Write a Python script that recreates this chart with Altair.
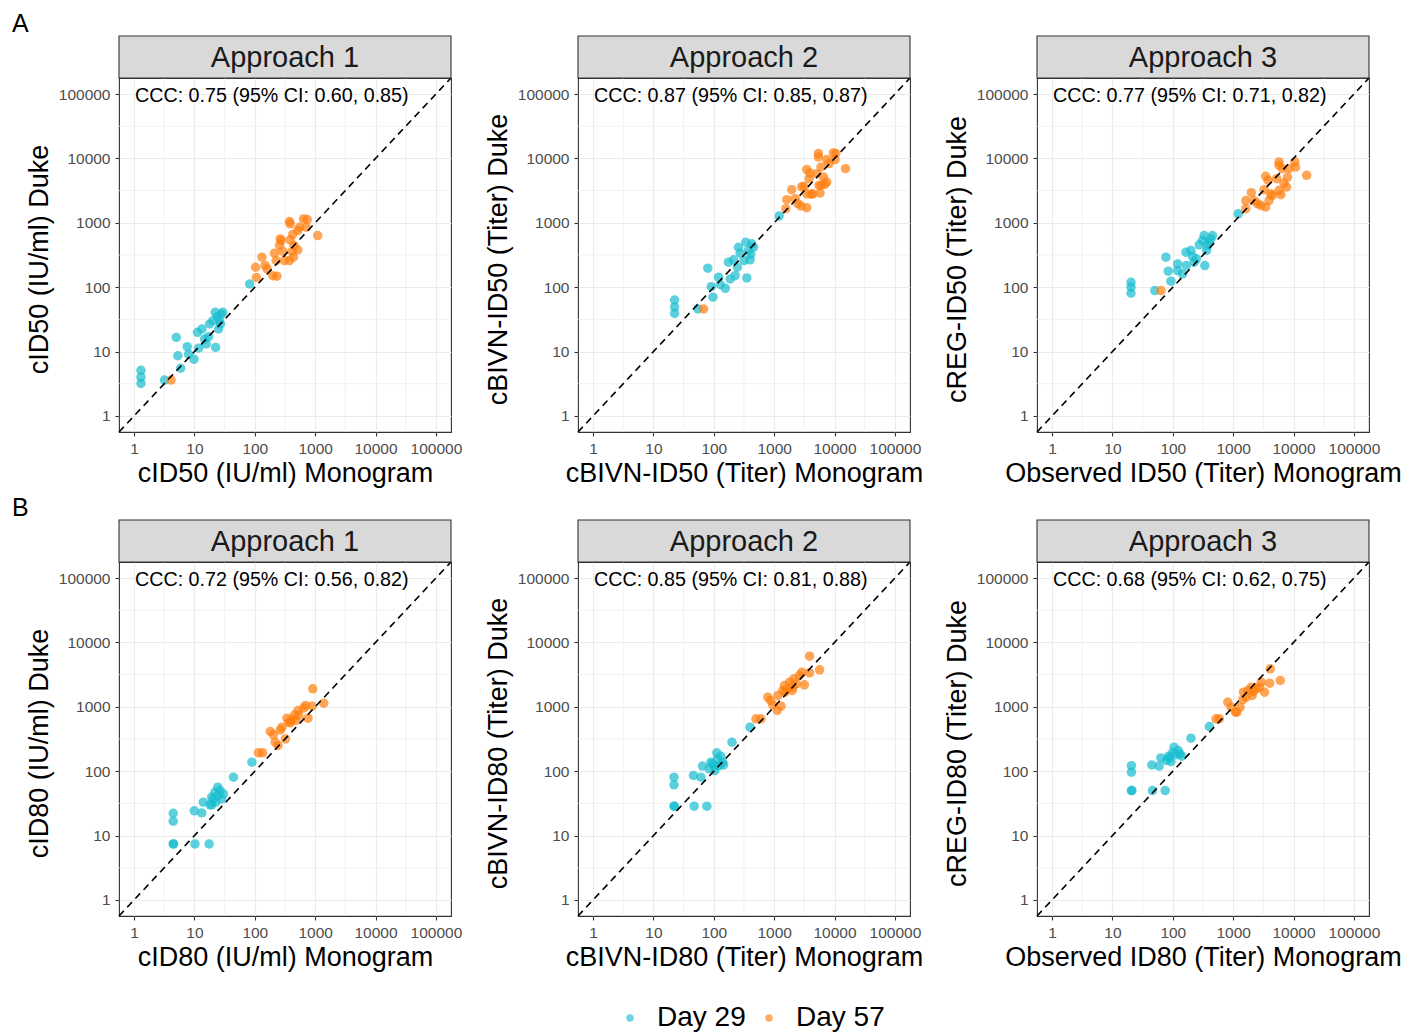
import altair as alt
import pandas as pd

FONT = "Liberation Sans"
W, H = 332, 354
DOMAIN = [0.5623, 177828]
TICKS = [1, 10, 100, 1000, 10000, 100000]
MINOR = [3.162, 31.62, 316.2, 3162, 31623]
DIAG = [0.5623, 177828]
DAYS = ["Day 29", "Day 57"]
COLORS = ["#17BECF", "#FF7F0E"]

STRIPS = ["Approach 1", "Approach 2", "Approach 3"]
X_TITLES = [
    "cID50 (IU/ml) Monogram", "cBIVN-ID50 (Titer) Monogram", "Observed ID50 (Titer) Monogram",
    "cID80 (IU/ml) Monogram", "cBIVN-ID80 (Titer) Monogram", "Observed ID80 (Titer) Monogram",
]
Y_TITLES = [
    "cID50 (IU/ml) Duke", "cBIVN-ID50 (Titer) Duke", "cREG-ID50 (Titer) Duke",
    "cID80 (IU/ml) Duke", "cBIVN-ID80 (Titer) Duke", "cREG-ID80 (Titer) Duke",
]
CCC = [
    "CCC: 0.75 (95% CI: 0.60, 0.85)", "CCC: 0.87 (95% CI: 0.85, 0.87)", "CCC: 0.77 (95% CI: 0.71, 0.82)",
    "CCC: 0.72 (95% CI: 0.56, 0.82)", "CCC: 0.85 (95% CI: 0.81, 0.88)", "CCC: 0.68 (95% CI: 0.62, 0.75)",
]

# ---- Panel A, Approach 1
A1_d29_x = [1.3, 1.3, 1.3, 3.2, 5.0, 5.3, 5.9, 7.6, 8.0, 9.8, 11.2, 11.7, 13.3, 14.7, 15.7, 17.2, 17.8, 20.3, 22.1, 24.0, 22.4, 25.1, 26.1, 27.7, 29.5, 27.0, 82]
A1_d29_y = [5.1, 4.0, 3.2, 3.6, 16.6, 8.6, 5.5, 11.9, 9.1, 7.6, 19.9, 11.3, 22.4, 15.6, 13.1, 17.0, 26.8, 30.2, 40.7, 34.8, 11.6, 22.4, 30.2, 38.3, 40.7, 26.8, 112]
A1_d57_x = [4.1, 106, 103, 131, 148, 160, 199, 232, 212, 256, 263, 226, 310, 290, 375, 385, 375, 415, 425, 437, 515, 515, 550, 640, 740, 710, 385, 1100, 274, 445]
A1_d57_y = [3.6, 142, 204, 293, 218, 192, 151, 148, 338, 445, 563, 259, 259, 363, 1048, 545, 259, 359, 660, 292, 380, 760, 854, 1150, 1125, 854, 966, 633, 528, 445]
# ---- Panel A, Approach 2
A2_d29_x = [22.4, 22.4, 22.4, 54.5, 79.5, 90.6, 96.5, 120, 128, 155, 175, 187, 212, 226, 246, 273, 316, 339, 352, 375, 398, 426, 454, 410, 1210, 256]
A2_d29_y = [63, 49, 39, 46, 197, 102, 70, 143, 110, 96, 245, 134, 266, 151, 204, 338, 259, 501, 139, 372, 266, 472, 417, 322, 1274, 417]
A2_d57_x = [67.6, 1560, 1620, 1950, 2230, 2460, 2790, 3460, 3130, 3460, 3460, 3800, 3930, 4360, 5070, 5400, 5400, 5530, 5750, 5970, 6530, 6920, 7410, 7410, 8110, 9550, 10200, 10500, 15200, 5970, 4080, 2860]
A2_d57_y = [46, 1660, 2290, 3270, 2370, 1990, 1820, 1720, 3690, 2820, 6710, 4850, 5960, 2820, 5790, 11900, 10500, 3810, 2900, 7390, 5140, 3970, 4310, 9620, 8320, 12200, 9620, 11900, 6950, 3810, 2770, 3620]
# ---- Panel A, Approach 3
A3_d29_x = [20.3, 20.3, 20.3, 50.3, 76.8, 84, 93, 120, 120, 145, 167, 165, 199, 212, 226, 246, 273, 310, 331, 339, 363, 398, 426, 454, 372, 1210]
A3_d29_y = [119, 100, 80.5, 88.5, 292, 177, 124, 181, 230, 161, 217, 350, 372, 300, 245, 276, 455, 532, 633, 217, 372, 490, 563, 633, 445, 1380]
A3_d57_x = [63.6, 1620, 1620, 2000, 2230, 2510, 2860, 3460, 3250, 3460, 3800, 4170, 4470, 5250, 5750, 5750, 5750, 6170, 6530, 7700, 7940, 8410, 10500, 10800, 16500, 3930, 6920]
A3_d57_y = [88.5, 1660, 2220, 2940, 2220, 1990, 1860, 1760, 3270, 5280, 4570, 2820, 2670, 4850, 8830, 7830, 3200, 2740, 6950, 3600, 5140, 6950, 8830, 7360, 5470, 2220, 4160]
# ---- Panel B, Approach 1
B1_d29_x = [4.45, 4.45, 4.45, 4.5, 9.95, 13.2, 10.2, 17.5, 14.0, 18.1, 19.3, 19.3, 21.9, 24.3, 24.9, 26.6, 28.3, 30.2, 22.4, 44.3, 89.4, 20.6]
B1_d29_y = [22.2, 16.7, 7.42, 7.42, 24.2, 22.5, 7.4, 7.4, 33, 30, 30, 39.4, 47.2, 56.4, 41.9, 50, 37.2, 44.4, 33, 80.7, 138, 37.2]
B1_d57_x = [115, 135, 180, 204, 218, 242, 265, 282, 321, 341, 365, 413, 458, 482, 520, 533, 646, 690, 760, 889, 912, 1390, 387]
B1_d57_y = [193, 193, 414, 367, 282, 251, 438, 483, 317, 667, 578, 633, 751, 613, 877, 733, 955, 1050, 667, 1025, 1905, 1140, 565]
# ---- Panel B, Approach 2
B2_d29_x = [21.9, 21.9, 21.9, 22.2, 46, 47.2, 61, 76.7, 65, 84, 89.4, 102, 104, 112, 115, 123, 131, 140, 145, 200, 398, 95.5]
B2_d29_y = [80.7, 61.4, 28.6, 28.6, 85.7, 28.6, 80.7, 28.6, 120, 109, 138, 120, 102, 193, 155, 122, 171, 138, 125, 282, 483, 130]
B2_d57_x = [500, 605, 783, 870, 948, 1120, 1150, 1300, 1480, 1515, 1680, 1795, 2040, 2120, 2320, 2630, 2880, 3160, 3860, 3860, 5660, 1390, 1990]
B2_d57_y = [650, 650, 1413, 1253, 1075, 877, 1500, 1023, 2140, 1690, 1905, 2415, 2020, 2720, 2280, 3070, 3460, 2200, 3380, 6130, 3760, 1795, 1795]
# ---- Panel B, Approach 3
B3_d29_x = [20.6, 20.6, 20.6, 21.0, 44.9, 46, 59.4, 74.8, 63.3, 78.7, 85, 93, 99, 105, 112, 123, 131, 141, 200, 403, 87]
B3_d29_y = [122, 96.5, 50, 50, 125, 50, 120, 50, 161, 147, 171, 141, 193, 236, 180, 209, 186, 171, 326, 494, 159]
B3_d57_x = [520, 590, 813, 925, 1095, 1150, 1300, 1445, 1480, 1750, 1995, 2065, 2170, 2400, 2915, 3310, 4010, 4110, 6030, 1640, 2735]
B3_d57_y = [650, 650, 1180, 988, 826, 826, 988, 1290, 1690, 1795, 2020, 1500, 1730, 1905, 2415, 1690, 2330, 3890, 2570, 1413, 2020]

PANELS = [
    (A1_d29_x, A1_d29_y, A1_d57_x, A1_d57_y),
    (A2_d29_x, A2_d29_y, A2_d57_x, A2_d57_y),
    (A3_d29_x, A3_d29_y, A3_d57_x, A3_d57_y),
    (B1_d29_x, B1_d29_y, B1_d57_x, B1_d57_y),
    (B2_d29_x, B2_d29_y, B2_d57_x, B2_d57_y),
    (B3_d29_x, B3_d29_y, B3_d57_x, B3_d57_y),
]
ROW_LABELS = ["A", "B"]

ONE = pd.DataFrame({"k": [0]})


def make_panel(i):
    d29x, d29y, d57x, d57y = PANELS[i]
    df = pd.DataFrame({
        "x": list(d29x) + list(d57x),
        "y": list(d29y) + list(d57y),
        "Day": [DAYS[0]] * len(d29x) + [DAYS[1]] * len(d57x),
    })
    xs = alt.Scale(type="log", domain=DOMAIN, nice=False, zero=False)
    ys = alt.Scale(type="log", domain=DOMAIN, nice=False, zero=False)
    xax = alt.Axis(values=TICKS, format="d", title=X_TITLES[i])
    yax = alt.Axis(values=TICKS, format="d", title=Y_TITLES[i])

    vminor = alt.Chart(pd.DataFrame({"m": MINOR})).mark_rule(
        color="#ebebeb", strokeWidth=0.7
    ).encode(x=alt.X("m:Q", scale=xs, axis=xax))
    hminor = alt.Chart(pd.DataFrame({"m": MINOR})).mark_rule(
        color="#ebebeb", strokeWidth=0.7
    ).encode(y=alt.Y("m:Q", scale=ys, axis=yax))

    pts = alt.Chart(df).mark_circle(size=90, opacity=0.7).encode(
        x=alt.X("x:Q", scale=xs, axis=xax),
        y=alt.Y("y:Q", scale=ys, axis=yax),
        color=alt.Color(
            "Day:N",
            scale=alt.Scale(domain=DAYS, range=COLORS),
            legend=alt.Legend(
                orient="none", legendX=497, legendY=926, direction="horizontal",
                title=None, labelFontSize=28, labelFont=FONT, labelColor="#000000",
                symbolType="circle", symbolSize=55, symbolOpacity=0.65,
                symbolStrokeWidth=0, labelOffset=13, columnPadding=9,
            ),
        ),
    )

    diag = alt.Chart(pd.DataFrame({"v": DIAG})).mark_line(
        color="#000000", strokeWidth=1.6, strokeDash=[7, 5]
    ).encode(
        x=alt.X("v:Q", scale=xs, axis=xax),
        y=alt.Y("v:Q", scale=ys, axis=yax),
    )

    ccc = alt.Chart(ONE).mark_text(
        text=CCC[i], font=FONT, fontSize=19.7, align="left", baseline="middle", color="#000000"
    ).encode(x=alt.value(16), y=alt.value(18))

    strip = alt.Chart(ONE).mark_rect(
        fill="#d9d9d9", stroke="#333333", strokeWidth=1.1
    ).encode(x=alt.value(0), x2=alt.value(W), y=alt.value(-42), y2=alt.value(0))
    strip_txt = alt.Chart(ONE).mark_text(
        text=STRIPS[i % 3], font=FONT, fontSize=29, align="center", baseline="middle", color="#1a1a1a"
    ).encode(x=alt.value(W / 2), y=alt.value(-20))

    layers = [vminor, hminor, pts, diag, ccc, strip, strip_txt]

    if i % 3 == 0:
        lab = alt.Chart(ONE).mark_text(
            text=ROW_LABELS[i // 3], font=FONT, fontSize=25, align="left",
            baseline="alphabetic", color="#000000"
        ).encode(x=alt.value(-107), y=alt.value(-46))
        layers.append(lab)
    if i == 0:
        anchor = alt.Chart(ONE).mark_rect(opacity=0).encode(
            x=alt.value(-110), x2=alt.value(-109), y=alt.value(-69), y2=alt.value(-68)
        )
        layers.append(anchor)

    return alt.layer(*layers).properties(width=W, height=H)


chart = alt.concat(
    *[make_panel(i) for i in range(6)],
    columns=3,
    spacing={"row": 130, "column": 127},
    bounds="flush",
).properties(
    padding=0, background="white"
).configure_view(
    stroke="#333333", strokeWidth=1.1
).configure_axis(
    labelFont=FONT, titleFont=FONT, labelFontSize=15.5, titleFontSize=27,
    labelColor="#4d4d4d", titleColor="#000000", titleFontWeight="normal",
    tickColor="#333333", tickSize=4, tickWidth=1.1, domain=False,
    gridColor="#ebebeb", gridWidth=1.1, labelFlush=False, labelOverlap=False,
    labelPadding=5,
).configure_axisX(
    titleX=W / 2, titleY=41, titleAlign="center", titleBaseline="middle",
).configure_axisY(
    titleX=-79.5, titleY=H / 2 + 4, titleAngle=270, titleAlign="center", titleBaseline="middle",
)

chart.save("out.html", embed_options={"renderer": "svg", "actions": False})
